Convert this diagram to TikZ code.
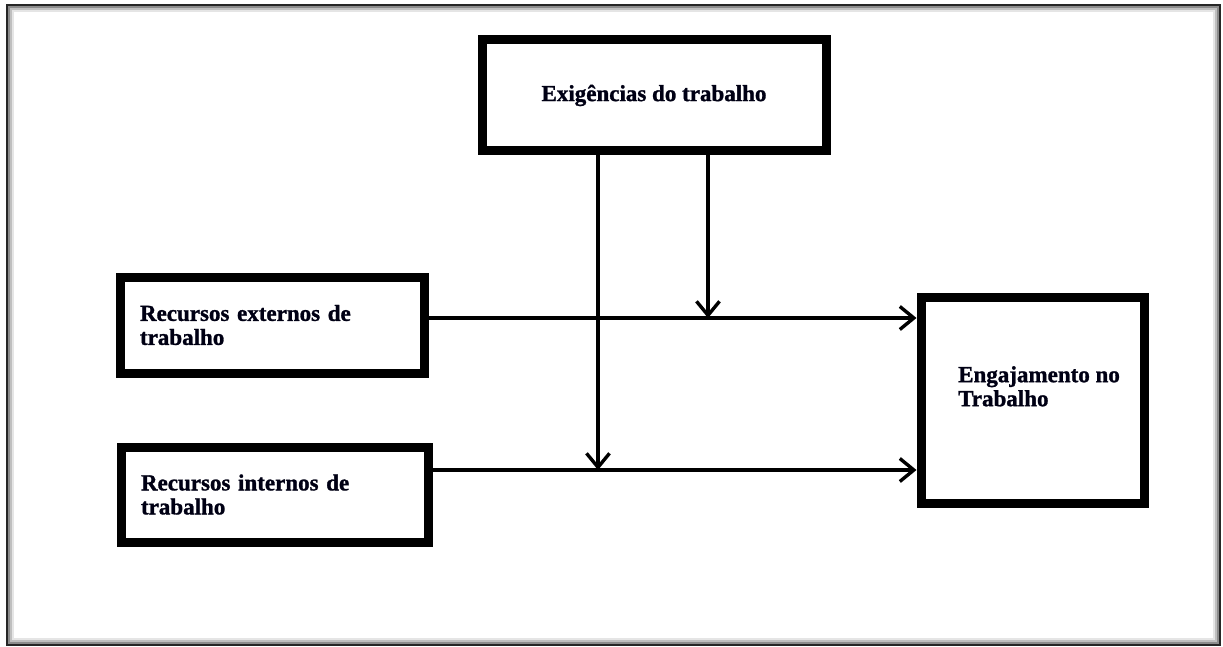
\documentclass[tikz,border=0pt]{standalone}
\usepackage{fontspec}
\setmainfont[BoldFeatures={FakeBold=1.2}]{Liberation Serif}
\usetikzlibrary{arrows.meta}
\begin{document}
\begin{tikzpicture}[x=1pt,y=-1pt,
  box/.style={draw=black,line width=9pt,rectangle,fill=white,inner sep=0pt},
  lbl/.style={font=\fontsize{23}{24}\selectfont\bfseries,text=black!92!blue},
  conn/.style={line width=3.6pt,-{Straight Barb[length=14pt,width=23pt,line width=3.4pt]}},
  plain/.style={line width=3.6pt}
]
\useasboundingbox (0,0) rectangle (1223,647);
% outer frame with inner shadow
\draw[black!10,line width=2pt] (13,11) rectangle (1214,639);
\draw[black!25,line width=2pt] (11,9) rectangle (1216,641);
\draw[black!45,line width=2pt] (9,7) rectangle (1218,643);
\draw[black!85,line width=2.4pt] (7,5) rectangle (1220,645);

\node[box,lbl,minimum width=344pt,minimum height=111pt] (exig) at (654,95.5) {Exigências do trabalho};
\node[box,lbl,minimum width=304pt,minimum height=96pt,text width=264pt,align=left,inner xsep=20pt] (ext) at (272,325) {Recursos externos de\\trabalho};
\node[box,lbl,minimum width=307pt,minimum height=95pt,text width=267pt,align=left,inner xsep=20pt] (int) at (274.5,494.5) {Recursos internos de\\trabalho};
\node[box,minimum width=223pt,minimum height=206pt] (eng) at (1032.5,400) {};
\node[lbl,anchor=north west,inner sep=0pt,align=left] (engtxt) at (958,366) {Engajamento no\\Trabalho};

\coordinate (m1) at (708,318);
\coordinate (m2) at (598,470);

\draw[plain] (ext.east |- m1) -- (m1);
\draw[conn] (m1) -- (eng.west |- m1);
\draw[plain] (int.east |- m2) -- (m2);
\draw[conn] (m2) -- (eng.west |- m2);
\draw[conn] (exig.south -| m1) -- (m1);
\draw[conn] (exig.south -| m2) -- (m2);
\end{tikzpicture}
\end{document}
